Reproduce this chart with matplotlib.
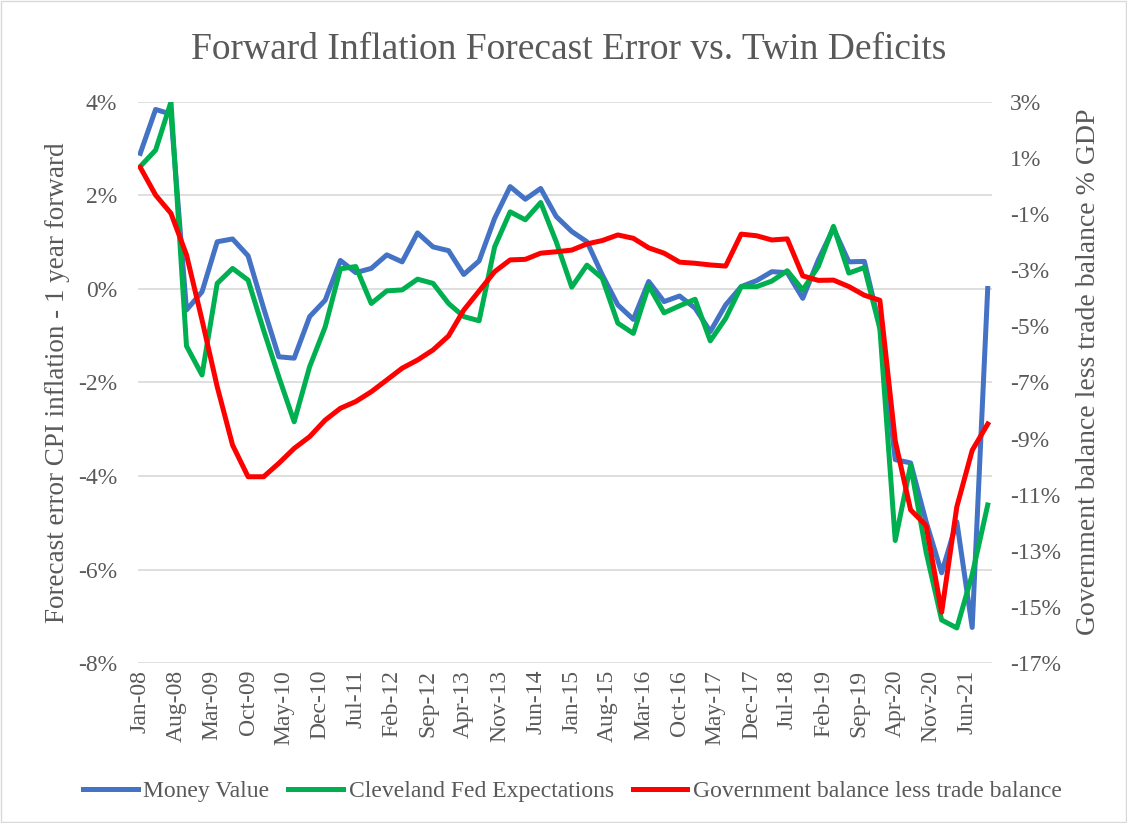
import numpy as np
import pandas as pd
import matplotlib
matplotlib.use("Agg")
import matplotlib.pyplot as plt
from matplotlib.lines import Line2D
from matplotlib.patches import Rectangle

plt.rcParams["font.family"] = ["Liberation Serif", "DejaVu Serif"]
TXT = "#595959"

# quarterly observations, Jan-08 .. Oct-21
dates = pd.date_range("2008-01-01", periods=56, freq="QS")

money_value = [2.90, 3.84, 3.74, -0.45, -0.06, 1.01, 1.07, 0.71, -0.41, -1.45, -1.48, -0.59,
               -0.24, 0.61, 0.35, 0.44, 0.73, 0.58, 1.20, 0.90, 0.82, 0.31, 0.60,
               1.51, 2.19, 1.92, 2.15, 1.55, 1.23, 1.01, 0.30, -0.34, -0.65, 0.16,
               -0.27, -0.15, -0.41, -0.91, -0.34, 0.05, 0.18, 0.37, 0.35, -0.20, 0.62,
               1.30, 0.58, 0.59, -0.80, -3.65, -3.72, -4.98, -6.07, -4.98, -7.24, 0.01]

cleveland_fed = [2.62, 2.97, 4.00, -1.22, -1.84, 0.12, 0.44, 0.19, -0.88, -1.88, -2.84, -1.66,
                 -0.81, 0.43, 0.48, -0.31, -0.04, -0.02, 0.21, 0.12, -0.31, -0.59, -0.68,
                 0.90, 1.65, 1.48, 1.85, 1.01, 0.04, 0.51, 0.23, -0.73, -0.95, 0.07,
                 -0.51, -0.36, -0.22, -1.11, -0.63, 0.05, 0.05, 0.17, 0.39, -0.02, 0.48,
                 1.34, 0.34, 0.46, -0.85, -5.38, -3.77, -5.63, -7.08, -7.25, -6.11, -4.62]

gov_less_trade = [0.67, -0.32, -0.97, -2.45, -4.77, -7.15, -9.23, -10.36, -10.36, -9.88, -9.35, -8.93,
                  -8.34, -7.92, -7.68, -7.33, -6.91, -6.49, -6.20, -5.84, -5.34, -4.42, -3.74,
                  -3.05, -2.63, -2.61, -2.39, -2.34, -2.28, -2.06, -1.94, -1.74, -1.86, -2.20,
                  -2.39, -2.71, -2.75, -2.81, -2.85, -1.71, -1.77, -1.92, -1.88, -3.20, -3.36,
                  -3.35, -3.58, -3.89, -4.07, -9.08, -11.54, -12.10, -15.19, -11.43, -9.42, -8.48]

tick_dates = pd.date_range("2008-01-01", "2021-06-01", freq="7MS")

fig = plt.figure(figsize=(11.27, 8.23), dpi=100)
ax = fig.add_axes([0.1225, 0.1944, 0.7575, 0.6817])
ax2 = ax.twinx()

ax.plot(dates, money_value, color="#4472C4", lw=3.6, solid_joinstyle="round")
ax.plot(dates, cleveland_fed, color="#00B050", lw=3.6, solid_joinstyle="round")
ax2.plot(dates, gov_less_trade, color="#FF0000", lw=3.6, solid_joinstyle="round")

ax.set_ylim(-8, 4)
ax.set_yticks(np.arange(-8, 5, 2))
ax.set_yticklabels([f"{v}%" for v in range(-8, 5, 2)])
ax2.set_ylim(-17, 3)
ax2.set_yticks(np.arange(-17, 4, 2))
ax2.set_yticklabels([f"{v}%" for v in range(-17, 4, 2)])

ax.set_xlim(pd.Timestamp("2007-12-19"), pd.Timestamp("2021-10-25"))
ax.set_xticks(tick_dates)
ax.set_xticklabels([d.strftime("%b-%y") for d in tick_dates], rotation=90)

ax.grid(axis="y", color="#D9D9D9", lw=1.2)
ax.set_axisbelow(True)
for a in (ax, ax2):
    for s in a.spines.values():
        s.set_visible(False)
    a.tick_params(length=0, labelsize=17, labelcolor=TXT)
ax.tick_params(axis="x", pad=5)
ax.tick_params(axis="y", pad=15)
ax2.tick_params(axis="y", pad=13)

ax.set_ylabel("Forecast error CPI inflation - 1 year forward", fontsize=19.5, color=TXT, labelpad=6)
ax2.set_ylabel("Government balance less trade balance % GDP", fontsize=20, color=TXT)
ax2.yaxis.set_label_coords(1.099, 0.52)
fig.suptitle("Forward Inflation Forecast Error vs. Twin Deficits", fontsize=27, color=TXT,
             x=0.505, y=0.96)

handles = [Line2D([], [], color="#4472C4", lw=3.6),
           Line2D([], [], color="#00B050", lw=3.6),
           Line2D([], [], color="#FF0000", lw=3.6)]
labels = ["Money Value", "Cleveland Fed Expectations", "Government balance less trade balance"]
leg = fig.legend(handles, labels, loc="center", bbox_to_anchor=(0.508, 0.038), ncol=3,
                 frameon=False, fontsize=17, handlelength=2.3, handletextpad=0.25,
                 columnspacing=0.8)
for t in leg.get_texts():
    t.set_color(TXT)

fig.patches.append(Rectangle((0.001, 0.001), 0.998, 0.998, transform=fig.transFigure,
                             fill=False, edgecolor="#D9D9D9", lw=1))

fig.savefig("out.png", dpi=100)
